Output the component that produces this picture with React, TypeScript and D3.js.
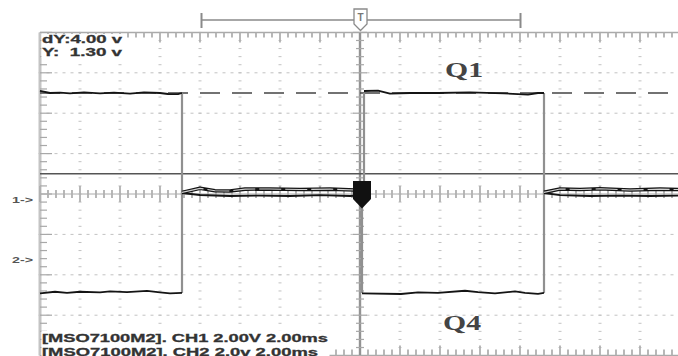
import React from "react";
import * as d3 from "d3";

// ---- data (time in ms, voltage in V) ----
const ch1HighA: [number, number][] = [[-16, 5.1], [-15.5, 5.0], [-15, 5.02], [-14.5, 4.98], [-13.8, 5.03], [-13, 4.98], [-12.3, 5.02], [-11.5, 4.97], [-10.8, 5.03], [-10, 5.0], [-9.6, 4.95], [-9.1, 4.94], [-8.9, 5.0]];
const ch1LowA: [number, number][] = [[-8.9, 0.05], [-8.0, -0.05], [-6.5, -0.1], [-5, -0.08], [-3.5, -0.1], [-2, -0.06], [-0.5, -0.1], [0.2, -0.05]];
const ch1HighB: [number, number][] = [[0.2, 5.1], [0.9, 5.12], [1.5, 4.97], [2.5, 5.0], [3.9, 5.0], [5.5, 5.03], [7.2, 4.98], [8.4, 4.92], [8.9, 5.0], [9.2, 5.0]];
const ch1LowC: [number, number][] = [[9.2, 0.05], [10, -0.06], [11.5, -0.1], [13, -0.08], [14.5, -0.1], [16, -0.08]];

const ch2LowA: [number, number][] = [[-16, -1.72], [-15.25, -1.64], [-14.65, -1.69], [-14, -1.64], [-13, -1.67], [-12.5, -1.62], [-11.65, -1.66], [-10.65, -1.6], [-10, -1.67], [-9.5, -1.72], [-8.9, -1.69]];
const ch2HighA: [number, number][] = [[-8.9, 3.28], [-8.0, 3.48], [-7.25, 3.36], [-6.5, 3.35], [-5.75, 3.44], [-4.5, 3.45], [-3, 3.42], [-1.5, 3.44], [-0.25, 3.4], [0.1, 3.4]];
const ch2LowB: [number, number][] = [[0.1, -1.72], [2.05, -1.75], [2.9, -1.67], [3.9, -1.69], [5.25, -1.59], [5.9, -1.66], [6.75, -1.72], [7.75, -1.62], [8.25, -1.69], [8.9, -1.74], [9.2, -1.7]];
const ch2HighC: [number, number][] = [[9.2, 3.28], [10, 3.45], [11, 3.42], [12, 3.46], [13.5, 3.4], [15, 3.44], [16, 3.42]];

const ch1Edges = [-8.9, 0.2, 9.2];
const ch2Edges = [-8.9, 0.1, 9.2];

const voltsPerDiv = 2;
const ch1OffsetDiv = 0;
const ch2OffsetDiv = -1.6;
const cursorSolidV = 1.0;
const cursorDashedV = 5.0;

const readoutTop = ["dY:4.00 v", "Y:  1.30 v"];
const readoutBottom = ["[MSO7100M2]. CH1 2.00V 2.00ms", "[MSO7100M2]. CH2 2.0v 2.00ms"];
const labelQ1 = "Q1";
const labelQ4 = "Q4";

export default function App() {
  const W = 678, H = 356;
  const x = d3.scaleLinear().domain([-16, 16]).range([40, 680]);
  const yd = d3.scaleLinear().domain([-4, 4]).range([355.6, 32.4]);
  const y1 = (v: number) => yd(v / voltsPerDiv + ch1OffsetDiv);
  const y2 = (v: number) => yd(v / voltsPerDiv + ch2OffsetDiv);
  const line1 = d3.line<[number, number]>().x(d => x(d[0])).y(d => y1(d[1]));
  const line2 = d3.line<[number, number]>().x(d => x(d[0])).y(d => y2(d[1]));

  const majorT = d3.range(-16, 16.01, 2);
  const minorT = d3.range(-16, 16.01, 0.4);
  const majorD = d3.range(-4, 4.01, 1);
  const minorD = d3.range(-4, 4.01, 0.2);
  const gridColor = "#c2c2c2";
  const tickColor = "#b0b0b0";

  const gridDots: JSX.Element[] = [];
  majorT.filter(t => Math.abs(t) > 0.01 && t > -15.9 && t < 15.9).forEach((t, i) => {
    minorD.forEach((d, j) => {
      gridDots.push(<rect key={`v${i}-${j}`} x={x(t) - 1.5} y={yd(d) - 0.5} width={3} height={1} fill={gridColor} />);
    });
  });
  majorD.filter(d => Math.abs(d) > 0.01 && Math.abs(d) < 3.99).forEach((d, i) => {
    minorT.forEach((t, j) => {
      gridDots.push(<rect key={`h${i}-${j}`} x={x(t) - 1.5} y={yd(d) - 0.5} width={3} height={1} fill={gridColor} />);
    });
  });

  const isMajorT = (t: number) => Math.abs(t / 2 - Math.round(t / 2)) < 0.01;
  const isMajorD = (d: number) => Math.abs(d - Math.round(d)) < 0.01;

  const ch1Levels = [ch1HighA, ch1LowA, ch1HighB, ch1LowC];
  const ch2Levels = [ch2LowA, ch2HighA, ch2LowB, ch2HighC];

  return (
    <svg width={W} height={H} style={{ position: "absolute", left: 0, top: 0, background: "#fff" }}>
      <rect x={0} y={0} width={W} height={H} fill="#fff" />
      <g>{gridDots}</g>

      {/* top ruler */}
      <line x1={40} x2={680} y1={yd(4)} y2={yd(4)} stroke="#aaa" strokeWidth={1.5} />
      {minorT.map((t, i) => (
        <line key={`tt${i}`} x1={x(t)} x2={x(t)} y1={yd(4)} y2={yd(4) + (isMajorT(t) ? 10 : 5)} stroke={tickColor} strokeWidth={1.8} />
      ))}
      {/* bottom ruler */}
      <line x1={40} x2={680} y1={yd(-4)} y2={yd(-4)} stroke="#aaa" strokeWidth={1.5} />
      {minorT.map((t, i) => (
        <line key={`tb${i}`} x1={x(t)} x2={x(t)} y1={yd(-4)} y2={yd(-4) - (isMajorT(t) ? 10 : 6)} stroke={tickColor} strokeWidth={1.8} />
      ))}
      {/* left ruler */}
      <line x1={40} x2={40} y1={yd(4)} y2={yd(-4)} stroke="#c4c4c4" strokeWidth={3} />
      {minorD.map((d, i) => (
        <line key={`tl${i}`} x1={40} x2={40 + (isMajorD(d) ? 12 : 7)} y1={yd(d)} y2={yd(d)} stroke="#a8a8a8" strokeWidth={1.2} />
      ))}
      {/* center horizontal axis */}
      <line x1={40} x2={680} y1={yd(0)} y2={yd(0)} stroke="#aaa" strokeWidth={1} />
      {minorT.map((t, i) => (
        <line key={`ch${i}`} x1={x(t)} x2={x(t)} y1={yd(0) - (isMajorT(t) ? 8 : 4)} y2={yd(0) + (isMajorT(t) ? 8 : 4)} stroke={tickColor} strokeWidth={1.8} />
      ))}
      {/* center vertical axis */}
      <line x1={x(0)} x2={x(0)} y1={yd(4)} y2={yd(-4)} stroke="#939393" strokeWidth={2.4} />
      {minorD.map((d, i) => (
        <line key={`cv${i}`} x1={x(0) - (isMajorD(d) ? 7 : 4)} x2={x(0) + (isMajorD(d) ? 7 : 4)} y1={yd(d)} y2={yd(d)} stroke="#a8a8a8" strokeWidth={1.2} />
      ))}

      {/* cursors */}
      <line x1={40} x2={680} y1={y1(cursorSolidV)} y2={y1(cursorSolidV)} stroke="#555" strokeWidth={1.4} />
      <line x1={40} x2={680} y1={y1(cursorDashedV)} y2={y1(cursorDashedV)} stroke="#444" strokeWidth={1.3} strokeDasharray="20 12" />

      {/* edges */}
      {ch1Edges.map((t, i) => (
        <line key={`e1${i}`} x1={x(t)} x2={x(t)} y1={y1(5.0)} y2={y1(-0.05)} stroke="#909090" strokeWidth={2.2} />
      ))}
      {ch2Edges.map((t, i) => (
        <line key={`e2${i}`} x1={x(t)} x2={x(t)} y1={y2(3.3)} y2={y2(-1.7)} stroke="#909090" strokeWidth={2.2} />
      ))}

      {/* traces */}
      {ch1Levels.map((seg, i) => (
        <path key={`c1${i}`} d={line1(seg) || ""} fill="none" stroke="#141414" strokeWidth={1.8} strokeLinejoin="round" />
      ))}
      {ch2Levels.map((seg, i) => (
        <g key={`c2${i}`}>
          <path d={line2(seg) || ""} fill="none" stroke="#141414" strokeWidth={i % 2 === 1 ? 3.6 : 1.8} strokeLinejoin="round" />
          {i % 2 === 1 && <path d={line2(seg) || ""} fill="none" stroke="#fff" strokeWidth={1.1} strokeOpacity={0.8} strokeDasharray="22 4" />}
        </g>
      ))}

      {/* trigger position bar at top */}
      <line x1={201} x2={521} y1={20} y2={20} stroke="#8a8a8a" strokeWidth={1.5} />
      <line x1={201.5} x2={201.5} y1={13} y2={28} stroke="#8a8a8a" strokeWidth={2} />
      <line x1={520.5} x2={520.5} y1={13} y2={28} stroke="#8a8a8a" strokeWidth={2} />
      <path d={`M${x(0) - 6},9 L${x(0) + 7},9 L${x(0) + 7},24 L${x(0) + 0.5},30.5 L${x(0) - 6},24 Z`} fill="#fff" stroke="#8a8a8a" strokeWidth={1.3} />
      <text x={x(0) + 0.5} y={21} fontFamily="Liberation Sans, Arial, sans-serif" fontWeight="bold" fontSize={10} fill="#777" textAnchor="middle">T</text>

      {/* trigger level marker */}
      <path d={`M${x(0) - 7},181 L${x(0) + 11},181 L${x(0) + 11},199 L${x(0) + 2},208.5 L${x(0) - 7},199 Z`} fill="#111" />

      {/* channel markers */}
      <text x={12} y={202.5} fontFamily="Liberation Sans, Arial, sans-serif" fontWeight="bold" fontSize={9} fill="#555" textLength={21} lengthAdjust="spacingAndGlyphs">1-&gt;</text>
      <text x={12} y={263} fontFamily="Liberation Sans, Arial, sans-serif" fontWeight="bold" fontSize={9} fill="#555" textLength={21} lengthAdjust="spacingAndGlyphs">2-&gt;</text>

      {/* readouts */}
      <rect x={41.5} y={34} width={82} height={24} fill="#fff" />
      <text x={42} y={43} fontFamily="Liberation Sans, Arial, sans-serif" fontWeight="bold" fontSize={11} fill="#333" stroke="#333" strokeWidth={0.3} textLength={80} lengthAdjust="spacingAndGlyphs" style={{ whiteSpace: "pre" }}>{readoutTop[0]}</text>
      <text x={42} y={56} fontFamily="Liberation Sans, Arial, sans-serif" fontWeight="bold" fontSize={11} fill="#333" stroke="#333" strokeWidth={0.3} textLength={80} lengthAdjust="spacingAndGlyphs" style={{ whiteSpace: "pre" }}>{readoutTop[1]}</text>

      <rect x={41.5} y={331} width={288} height={25} fill="#fff" />
      <text x={42} y={342} fontFamily="Liberation Sans, Arial, sans-serif" fontWeight="bold" fontSize={11} fill="#333" stroke="#333" strokeWidth={0.3} textLength={286} lengthAdjust="spacingAndGlyphs" style={{ whiteSpace: "pre" }}>{readoutBottom[0]}</text>
      <text x={42} y={355.5} fontFamily="Liberation Sans, Arial, sans-serif" fontWeight="bold" fontSize={11} fill="#333" stroke="#333" strokeWidth={0.3} textLength={276} lengthAdjust="spacingAndGlyphs" style={{ whiteSpace: "pre" }}>{readoutBottom[1]}</text>

      {/* labels */}
      <text x={445} y={77} fontFamily="Liberation Serif, Times New Roman, serif" fontWeight="bold" fontSize={20} fill="#444" textLength={38} lengthAdjust="spacingAndGlyphs">{labelQ1}</text>
      <text x={443} y={330} fontFamily="Liberation Serif, Times New Roman, serif" fontWeight="bold" fontSize={20} fill="#444" textLength={38} lengthAdjust="spacingAndGlyphs">{labelQ4}</text>
    </svg>
  );
}
